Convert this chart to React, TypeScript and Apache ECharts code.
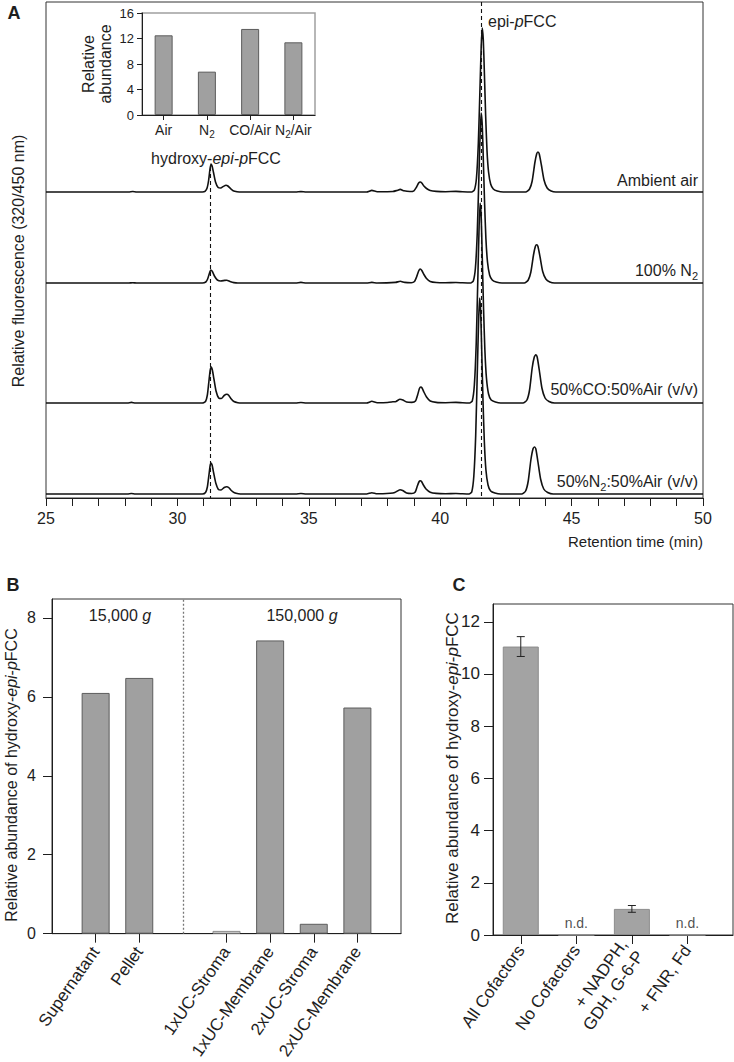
import React, { useEffect, useRef } from "react";
import * as echarts from "echarts";

const FONT = "'Liberation Sans', Arial, Helvetica, sans-serif";
const INK = "#1e1e1e";

// ---------- Panel A: chromatograms [retention time (min), relative fluorescence] ----------
const traceAmbientAir = [
  [25, 0], [28.15, 0], [28.3, 0.5], [28.45, 0],
  [30.95, 0], [31.05, 0.6], [31.13, 4], [31.19, 12], [31.24, 23], [31.28, 28], [31.32, 26], [31.37, 20], [31.45, 10], [31.55, 4.5], [31.65, 4], [31.75, 5.6], [31.85, 6.7], [31.92, 6], [32.02, 3.5], [32.12, 1.3], [32.27, 0.3], [32.45, 0],
  [34.5, 0], [34.7, 0.4], [34.9, 0],
  [37.2, 0], [37.4, 1.6], [37.6, 0.3], [38.2, 0.5], [38.35, 1.5], [38.48, 2.6], [38.62, 1.2], [38.85, 0.5], [39.0, 1.2], [39.1, 5], [39.18, 9], [39.24, 10], [39.3, 9], [39.38, 6], [39.48, 3.5], [39.62, 1.5], [39.85, 0.6], [40.2, 0.3], [40.6, 0.6], [40.85, 0.2],
  [41.2, 0], [41.3, 2], [41.38, 14], [41.45, 48], [41.51, 100], [41.56, 145], [41.6, 164], [41.64, 152], [41.68, 120], [41.73, 76], [41.78, 42], [41.84, 20], [41.92, 8], [42.02, 3], [42.17, 1], [42.4, 0],
  [43.25, 0], [43.4, 3], [43.5, 11], [43.6, 29], [43.67, 38], [43.72, 40], [43.77, 38], [43.85, 27], [43.95, 12], [44.07, 4], [44.22, 1], [44.4, 0],
  [50, 0],
];
const traceN2 = [
  [25, 0], [28.15, 0], [28.3, 0.3], [28.45, 0],
  [30.95, 0], [31.08, 1], [31.15, 4], [31.21, 9], [31.27, 13], [31.33, 11.5], [31.42, 6.5], [31.52, 3], [31.65, 2], [31.8, 2.6], [31.88, 2.7], [32.0, 1.5], [32.15, 0.4], [32.3, 0],
  [34.5, 0], [34.7, 0.6], [34.9, 0],
  [37.2, 0], [37.4, 0.6], [37.6, 0], [38.3, 0.6], [38.48, 1.7], [38.65, 0.6], [38.9, 0.3], [39.02, 1.5], [39.1, 6], [39.18, 12], [39.24, 14], [39.3, 12.5], [39.38, 8.5], [39.48, 4.5], [39.62, 1.6], [39.85, 0.5], [40.2, 0.3], [40.6, 0.5], [40.85, 0.2],
  [41.16, 0], [41.26, 2], [41.34, 15], [41.41, 50], [41.47, 104], [41.52, 150], [41.56, 170], [41.6, 158], [41.64, 124], [41.69, 79], [41.74, 44], [41.8, 21], [41.88, 8], [41.98, 3], [42.13, 1], [42.35, 0],
  [43.2, 0], [43.35, 3], [43.45, 11], [43.55, 28], [43.62, 36.5], [43.67, 38.3], [43.72, 36.5], [43.8, 26], [43.9, 11.5], [44.02, 4], [44.17, 1], [44.35, 0],
  [50, 0],
];
const traceCOAir = [
  [25, 0], [28.1, 0], [28.25, 0.6], [28.4, 0],
  [30.95, 0], [31.07, 1.5], [31.14, 8], [31.2, 22], [31.25, 33], [31.29, 36], [31.33, 33], [31.39, 24], [31.47, 12], [31.57, 5], [31.67, 4.5], [31.78, 7.5], [31.88, 8.7], [31.95, 7.8], [32.05, 4], [32.15, 1.5], [32.3, 0.3], [32.45, 0],
  [34.5, 0], [34.7, 0.5], [34.9, 0],
  [37.2, 0], [37.4, 1.7], [37.6, 0.3], [38.0, 0.5], [38.2, 1.2], [38.32, 1.6], [38.47, 3.7], [38.58, 3], [38.72, 1], [38.92, 0.6], [39.06, 2], [39.14, 8], [39.21, 14.5], [39.26, 16], [39.31, 15], [39.38, 11], [39.48, 6], [39.62, 2], [39.85, 0.6], [40.2, 0.3], [40.6, 0.6], [40.85, 0.2],
  [41.12, 0], [41.22, 2], [41.3, 18], [41.37, 59], [41.43, 122], [41.48, 176], [41.52, 200], [41.56, 186], [41.6, 146], [41.65, 94], [41.7, 53], [41.76, 25], [41.84, 9], [41.94, 3], [42.1, 1], [42.3, 0],
  [43.15, 0], [43.3, 3], [43.4, 13], [43.5, 35], [43.58, 46], [43.64, 48.3], [43.69, 46], [43.77, 33], [43.87, 15], [43.99, 5], [44.14, 1.5], [44.35, 0],
  [50, 0],
];
const traceN2Air = [
  [25, 0], [28.1, 0], [28.25, 0.5], [28.4, 0],
  [30.95, 0], [31.07, 1.5], [31.14, 7], [31.2, 19], [31.25, 29], [31.28, 31], [31.32, 29], [31.38, 21], [31.46, 11], [31.56, 4.5], [31.66, 4], [31.78, 6.5], [31.88, 7.3], [31.95, 6.5], [32.05, 3.5], [32.17, 1.2], [32.32, 0.2], [32.5, 0],
  [34.5, 0], [34.7, 0.5], [34.9, 0],
  [37.2, 0], [37.4, 1.3], [37.6, 0.2], [38.1, 0.8], [38.27, 1.5], [38.47, 4.3], [38.57, 3.5], [38.72, 1], [38.92, 0.5], [39.05, 2], [39.13, 8], [39.2, 12.5], [39.24, 13.3], [39.29, 12.5], [39.36, 9], [39.46, 5], [39.62, 1.8], [39.85, 0.6], [40.2, 0.3], [40.6, 0.5], [40.85, 0.2],
  [41.1, 0], [41.2, 2], [41.28, 18], [41.35, 58], [41.41, 120], [41.46, 172], [41.5, 196], [41.54, 182], [41.58, 143], [41.63, 92], [41.68, 52], [41.74, 24], [41.82, 9], [41.92, 3], [42.08, 1], [42.3, 0],
  [43.1, 0], [43.25, 3], [43.35, 13], [43.45, 34], [43.53, 45], [43.59, 47], [43.64, 45], [43.72, 32], [43.82, 15], [43.94, 5], [44.09, 1.5], [44.3, 0],
  [50, 0],
];
const traceNames = ["Ambient air", "100% N{s|2}", "50%CO:50%Air (v/v)", "50%N{s|2}:50%Air (v/v)"];
const hydroxyRT = 31.26;
const epiRT = 41.58;

// ---------- Panel A inset ----------
const insetCategories = ["Air", "N2", "CO/Air", "N2/Air"];
const insetValues = [12.5, 6.8, 13.5, 11.4];

// ---------- Panel B ----------
const bCategories = ["Supernatant", "Pellet", "1xUC-Stroma", "1xUC-Membrane", "2xUC-Stroma", "2xUC-Membrane"];
const bValues = [6.1, 6.48, 0.07, 7.43, 0.25, 5.73];
const bGroupOf = [0, 0, 1, 1, 1, 1];
const bGroupLabels = ["15,000 {i|g}", "150,000 {i|g}"];
const bTicks = [0, 2, 4, 6, 8];

// ---------- Panel C ----------
const cCategories = ["All Cofactors", "No Cofactors", "+ NADPH,\nGDH, G-6-P", "+ FNR, Fd"];
const cValues: (number | null)[] = [11.05, null, 1.0, null];
const cErrors: (number | null)[] = [0.38, null, 0.13, null];
const cTicks = [0, 2, 4, 6, 8, 10, 12];

function buildOption() {
  const traces = [traceAmbientAir, traceN2, traceCOAir, traceN2Air];
  const baselines = [192, 283, 403, 494];
  const labelY = [180, 270, 389, 481];

  const bPos = bCategories.map((_, i) => i + 1 + bGroupOf[i]);
  const cPos = cCategories.map((_, i) => i + 0.5);

  const richSub = {
    s: { fontSize: 11, lineHeight: 11, verticalAlign: "bottom", fontFamily: FONT, fill: INK, color: INK },
    i: { fontStyle: "italic", fontSize: 16, lineHeight: 22, fontFamily: FONT, fill: INK, color: INK },
  };

  const txt = (x: number, y: number, text: string, extra: any = {}, rotation = 0) => ({
    type: "text",
    x,
    y,
    rotation,
    silent: true,
    style: {
      text,
      fill: INK,
      fontSize: 16,
      fontFamily: FONT,
      lineHeight: 22,
      align: "center",
      verticalAlign: "middle",
      textAlign: "center",
      textVerticalAlign: "middle",
      rich: richSub,
      ...extra,
    },
  });

  const grid: any[] = [
    { left: 46, top: 2, width: 657, height: 496, show: true, borderColor: "#333", borderWidth: 1 },
    ...baselines.map((b) => ({ left: 46, top: b - 100, width: 657, height: 100 })),
    { left: 142, top: 13, width: 173, height: 102, show: true, borderColor: "#a0a0a0", borderWidth: 1.5 },
    { left: 52, top: 599, width: 349, height: 335, show: true, borderColor: "#333", borderWidth: 1 },
    { left: 493, top: 604, width: 240, height: 331, show: true, borderColor: "#333", borderWidth: 1 },
  ];

  const axLine = { show: true, lineStyle: { color: INK, width: 1 } };
  const axLbl = { color: INK, fontFamily: FONT, fontSize: 16 };

  const xAxis: any[] = [
    {
      gridIndex: 0, type: "value", min: 25, max: 50, interval: 1,
      axisLine: axLine, axisTick: { show: true, length: 8, lineStyle: { color: INK } },
      axisLabel: { ...axLbl, margin: 12, formatter: (v: number) => (v % 5 === 0 ? String(v) : "") },
      splitLine: { show: false },
    },
    ...[1, 2, 3, 4].map((g) => ({ gridIndex: g, type: "value", min: 25, max: 50, show: false, splitLine: { show: false } })),
    {
      gridIndex: 5, type: "category", data: insetCategories,
      axisLine: axLine, axisTick: { show: true, alignWithLabel: true, length: 5, lineStyle: { color: INK } },
      axisLabel: {
        ...axLbl, fontSize: 14, lineHeight: 18, margin: 6, interval: 0,
        formatter: (v: string) => v.replace("N2", "N{s|2}"),
        rich: { s: { fontSize: 10, lineHeight: 10, verticalAlign: "bottom", color: INK, fontFamily: FONT } },
      },
      splitLine: { show: false },
    },
    {
      gridIndex: 6, type: "value", min: 0, max: 8,
      axisLine: axLine,
      axisTick: { show: true, length: 9, customValues: bPos, lineStyle: { color: INK } },
      axisLabel: {
        ...axLbl, fontSize: 17, rotate: 55, margin: 15, customValues: bPos,
        formatter: (v: number) => { const i = bPos.indexOf(v); return i >= 0 ? bCategories[i] : ""; },
      },
      splitLine: { show: false },
    },
    {
      gridIndex: 7, type: "value", min: 0, max: 4.32,
      axisLine: axLine,
      axisTick: { show: true, length: 9, customValues: cPos, lineStyle: { color: INK } },
      axisLabel: {
        ...axLbl, fontSize: 17, lineHeight: 20, rotate: 55, margin: 12, customValues: cPos,
        formatter: (v: number) => { const i = cPos.indexOf(v); return i >= 0 ? cCategories[i] : ""; },
      },
      splitLine: { show: false },
    },
  ];

  const yAxis: any[] = [
    { gridIndex: 0, type: "value", min: 0, max: 496, show: false, splitLine: { show: false } },
    ...[1, 2, 3, 4].map((g) => ({ gridIndex: g, type: "value", min: 0, max: 100, show: false, splitLine: { show: false } })),
    {
      gridIndex: 5, type: "value", min: 0, max: 16, interval: 4,
      axisLine: axLine, axisTick: { show: true, length: 5, lineStyle: { color: INK } },
      axisLabel: { ...axLbl, fontSize: 13, margin: 8 },
      splitLine: { show: false },
      name: "Relative\nabundance", nameLocation: "middle", nameGap: 28,
      nameTextStyle: { color: INK, fontFamily: FONT, fontSize: 16, lineHeight: 17 },
    },
    {
      gridIndex: 6, type: "value", min: 0, max: 8.48,
      axisLine: axLine,
      axisTick: { show: true, length: 9, customValues: bTicks, lineStyle: { color: INK } },
      axisLabel: { ...axLbl, margin: 16, customValues: bTicks },
      splitLine: { show: false },
    },
    {
      gridIndex: 7, type: "value", min: 0, max: 12.68,
      axisLine: axLine,
      axisTick: { show: true, length: 9, customValues: cTicks, lineStyle: { color: INK } },
      axisLabel: { ...axLbl, fontSize: 17, margin: 13, customValues: cTicks },
      splitLine: { show: false },
    },
  ];

  const barStyle = { color: "#a0a0a0", borderColor: "#5c5c5c", borderWidth: 1 };

  const series: any[] = [
    {
      type: "line", xAxisIndex: 0, yAxisIndex: 0, data: [[25, 0]], symbol: "none",
      lineStyle: { width: 0 }, silent: true,
      markLine: {
        silent: true, symbol: "none", label: { show: false },
        lineStyle: { type: [4, 3], color: "#111", width: 1.1 },
        data: [
          [{ coord: [hydroxyRT, 331] }, { coord: [hydroxyRT, 0] }],
          [{ coord: [epiRT, 496] }, { coord: [epiRT, 0] }],
        ],
      },
    },
    ...traces.map((t, k) => ({
      type: "line", xAxisIndex: k + 1, yAxisIndex: k + 1, data: t, symbol: "none",
      smooth: 0.2, clip: false, silent: true, z: 3,
      lineStyle: { color: "#111", width: 1.6 },
    })),
    {
      type: "bar", xAxisIndex: 5, yAxisIndex: 5, data: insetValues, barWidth: 18,
      itemStyle: barStyle, silent: true,
    },
    {
      type: "bar", xAxisIndex: 6, yAxisIndex: 6, barWidth: 28, silent: true,
      data: bPos.map((p, i) => ({
        value: [p, bValues[i]],
        itemStyle: bValues[i] < 0.1 ? { color: "#e4e4e4", borderColor: "#8a8a8a", borderWidth: 1 } : barStyle,
      })),
      markLine: {
        silent: true, symbol: "none", label: { show: false },
        lineStyle: { type: [2, 2], color: "#777", width: 1.3 },
        data: [{ xAxis: 3 }],
      },
    },
    {
      type: "bar", xAxisIndex: 7, yAxisIndex: 7, barWidth: 36, silent: true,
      data: cPos.map((p, i) => [p, cValues[i] ?? 0]),
      itemStyle: { color: "#a3a3a3", borderColor: "#8c8c8c", borderWidth: 1 },
    },
    {
      type: "custom", xAxisIndex: 7, yAxisIndex: 7, silent: true, z: 5,
      data: cPos
        .map((p, i) => (cErrors[i] != null && cValues[i] != null ? [p, (cValues[i] as number) - (cErrors[i] as number), (cValues[i] as number) + (cErrors[i] as number)] : null))
        .filter((d) => d !== null),
      renderItem: (params: any, api: any) => {
        const x = api.value(0);
        const hi = api.coord([x, api.value(2)]);
        const lo = api.coord([x, api.value(1)]);
        const w = 4;
        const st = { stroke: "#222", lineWidth: 1 };
        return {
          type: "group",
          children: [
            { type: "line", shape: { x1: hi[0], y1: hi[1], x2: lo[0], y2: lo[1] }, style: st },
            { type: "line", shape: { x1: hi[0] - w, y1: hi[1], x2: hi[0] + w, y2: hi[1] }, style: st },
            { type: "line", shape: { x1: lo[0] - w, y1: lo[1], x2: lo[0] + w, y2: lo[1] }, style: st },
          ],
        };
      },
    },
    {
      type: "scatter", xAxisIndex: 7, yAxisIndex: 7, silent: true, symbolSize: 1,
      itemStyle: { color: "rgba(0,0,0,0)" },
      data: cPos.map((p, i) => (cValues[i] == null ? [p, 0] : null)).filter((d) => d !== null),
      label: { show: true, position: "top", distance: 5, formatter: "n.d.", color: INK, fontFamily: FONT, fontSize: 14 },
    },
  ];

  const graphic: any[] = [
    txt(14, 13, "A", { fontWeight: "bold", fontSize: 18 }),
    txt(13, 585, "B", { fontWeight: "bold", fontSize: 18 }),
    txt(459, 585, "C", { fontWeight: "bold", fontSize: 18 }),
    txt(18, 261, "Relative fluorescence (320/450 nm)", {}, Math.PI / 2),
    txt(703, 541, "Retention time (min)", { align: "right", textAlign: "right", fontSize: 15 }),
    txt(216, 158, "hydroxy-{i|epi-p}FCC"),
    txt(488, 21, "epi-{i|p}FCC", { align: "left", textAlign: "left" }),
    ...traceNames.map((n, k) => txt(698, labelY[k], n, { align: "right", textAlign: "right" })),
    ...bGroupLabels.map((g, k) => txt(k === 0 ? 120 : 302, 615, g)),
    txt(11, 775, "Relative abundance of hydroxy-{i|epi}-{i|p}FCC", {}, Math.PI / 2),
    txt(452, 768, "Relative abundance of hydroxy-{i|epi}-{i|p}FCC", {
      fontSize: 17,
      rich: { ...richSub, i: { ...richSub.i, fontSize: 17 } },
    }, Math.PI / 2),
  ];

  return {
    animation: false,
    backgroundColor: "#fff",
    textStyle: { fontFamily: FONT, color: INK },
    grid,
    xAxis,
    yAxis,
    series,
    graphic,
  };
}

export default function App() {
  const ref = useRef<HTMLDivElement>(null);
  useEffect(() => {
    document.body.style.margin = "0";
    const chart = echarts.init(ref.current as HTMLDivElement, null, { renderer: "svg" });
    chart.setOption(buildOption() as any);
    return () => chart.dispose();
  }, []);
  return <div ref={ref} style={{ width: 734, height: 1062, background: "#fff" }} />;
}
